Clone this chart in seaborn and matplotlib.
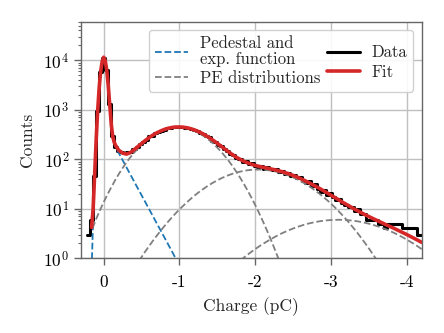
import numpy as np
import pandas as pd
import matplotlib
matplotlib.use('Agg')
import matplotlib.pyplot as plt
from matplotlib.lines import Line2D
import seaborn as sns

# histogram of the measured charge (bin centres in pC, counts per bin)
charge_bins = [0.20, 0.16, 0.12, 0.08, 0.04, 0.00, -0.04, -0.08, -0.12, -0.16,
               -0.20, -0.24, -0.28, -0.32, -0.36, -0.40, -0.44, -0.48, -0.52, -0.56,
               -0.60, -0.64, -0.68, -0.72, -0.76, -0.80, -0.84, -0.88, -0.92, -0.96,
               -1.00, -1.04, -1.08, -1.12, -1.16, -1.20, -1.24, -1.28, -1.32, -1.36,
               -1.40, -1.44, -1.48, -1.52, -1.56, -1.60, -1.64, -1.68, -1.72, -1.76,
               -1.80, -1.84, -1.88, -1.92, -1.96, -2.00, -2.04, -2.08, -2.12, -2.16,
               -2.20, -2.24, -2.28, -2.32, -2.36, -2.40, -2.44, -2.48, -2.52, -2.56,
               -2.60, -2.64, -2.68, -2.72, -2.76, -2.80, -2.84, -2.88, -2.92, -2.96,
               -3.00, -3.04, -3.08, -3.12, -3.16, -3.20, -3.24, -3.28, -3.32, -3.36,
               -3.40, -3.44, -3.48, -3.52, -3.56, -3.60, -3.64, -3.68, -3.72, -3.76,
               -3.80, -3.84, -3.88, -3.92, -3.96, -4.00, -4.04, -4.08, -4.12, -4.16,
               -4.20]
counts = [3, 6, 47, 960, 5800, 11300, 6400, 1280, 290, 180,
          150, 140, 131, 138, 142, 165, 178, 206, 222, 245,
          290, 298, 336, 350, 381, 396, 424, 428, 446, 452,
          441, 450, 436, 431, 405, 396, 372, 341, 326, 290,
          276, 238, 226, 196, 184, 158, 149, 127, 122, 104,
          103, 90, 92, 80, 84, 72, 70, 74, 64, 69,
          63, 60, 64, 55, 58, 51, 54, 45, 48, 41,
          43, 37, 33, 36, 29, 31, 25, 22, 24, 19,
          21, 17, 15, 16, 13, 12, 11, 11, 9, 10,
          8, 8, 6, 6, 6, 6, 5, 5, 4, 5,
          5, 5, 5, 5, 4, 4, 4, 4, 4, 3,
          3]

# total fit
fit_x = [0.16, 0.14, 0.12, 0.10, 0.08, 0.06, 0.04, 0.02, 0.00, -0.02,
         -0.04, -0.06, -0.08, -0.10, -0.12, -0.14, -0.16, -0.18, -0.20, -0.25,
         -0.30, -0.35, -0.40, -0.45, -0.50, -0.55, -0.60, -0.65, -0.70, -0.75,
         -0.80, -0.85, -0.90, -0.95, -1.00, -1.05, -1.10, -1.15, -1.20, -1.25,
         -1.30, -1.35, -1.40, -1.45, -1.50, -1.55, -1.60, -1.65, -1.70, -1.75,
         -1.80, -1.85, -1.90, -1.95, -2.00, -2.05, -2.10, -2.15, -2.20, -2.25,
         -2.30, -2.35, -2.40, -2.45, -2.50, -2.55, -2.60, -2.65, -2.70, -2.75,
         -2.80, -2.85, -2.90, -2.95, -3.00, -3.05, -3.10, -3.15, -3.20, -3.25,
         -3.30, -3.35, -3.40, -3.45, -3.50, -3.55, -3.60, -3.65, -3.70, -3.75,
         -3.80, -3.85, -3.90, -3.95, -4.00, -4.05, -4.10, -4.15, -4.20]
fit_y = [4.2, 9.8, 47, 238, 938, 2751, 5943, 9438, 11502, 9870,
         6326, 3091, 1240, 505, 283, 218, 188, 167, 152, 133,
         127, 136, 155, 180, 208, 240, 274, 308, 341, 372,
         400, 422, 438, 448, 449, 445, 433, 414, 391, 363,
         333, 301, 270, 239, 210, 184, 161, 141, 124, 110,
         100, 91.3, 84.7, 79.4, 75.3, 72.1, 69.2, 66.7, 64.2, 61.8,
         59.2, 56.4, 53.5, 50.5, 47.2, 44.0, 40.7, 37.5, 34.3, 31.3,
         28.5, 25.8, 23.3, 21.0, 18.9, 17.0, 15.3, 13.7, 12.4, 11.2,
         10.1, 9.18, 8.36, 7.63, 6.99, 6.42, 5.9, 5.44, 5.0, 4.61,
         4.26, 3.92, 3.6, 3.3, 3.03, 2.77, 2.53, 2.31, 2.1]

# pedestal + exponential component
ped_x = [0.16, 0.14, 0.12, 0.10, 0.08, 0.06, 0.04, 0.02, 0.00, -0.02,
         -0.04, -0.06, -0.08, -0.10, -0.12, -0.14, -0.16, -0.18, -0.20, -0.25,
         -0.30, -0.35, -0.40, -0.45, -0.50, -0.55, -0.60, -0.65, -0.70, -0.75,
         -0.80, -0.85, -0.90, -0.95, -1.00]
ped_y = [0.56, 5.7, 42.5, 232, 932, 2744, 5934, 9427, 11490, 9857,
         6311, 3075, 1223, 487, 267, 203, 174, 152, 133, 96,
         69, 50, 36, 26, 18.8, 13.6, 9.8, 7.1, 5.1, 3.7,
         2.67, 1.93, 1.39, 1.0, 0.72]

# photo-electron distributions (1, 2 and 3 PE)
pe1_x = [0.16, 0.10, 0.05, 0.00, -0.05, -0.10, -0.15, -0.20, -0.25, -0.30,
         -0.35, -0.40, -0.45, -0.50, -0.55, -0.60, -0.65, -0.70, -0.75, -0.80,
         -0.85, -0.90, -0.95, -1.00, -1.05, -1.10, -1.15, -1.20, -1.25, -1.30,
         -1.35, -1.40, -1.45, -1.50, -1.55, -1.60, -1.65, -1.70, -1.75, -1.80,
         -1.85, -1.90, -1.95, -2.00, -2.05, -2.10, -2.15, -2.20, -2.25, -2.30,
         -2.35, -2.40]
pe1_y = [3.6, 6.2, 9.3, 13.6, 19.5, 27.2, 37.5, 50.5, 66.5, 86,
         109, 135, 164, 197, 231, 266, 301, 334, 366, 393,
         415, 430, 439, 439, 433, 419, 398, 372, 342, 309,
         274, 239, 205, 172, 143, 116, 93.2, 73.2, 56.5, 42.9,
         32.0, 23.5, 16.9, 12.0, 8.35, 5.7, 3.84, 2.54, 1.65, 1.05,
         0.66, 0.41]
pe2_x = [-0.45, -0.50, -0.55, -0.60, -0.65, -0.70, -0.75, -0.80, -0.85, -0.90,
         -0.95, -1.00, -1.05, -1.10, -1.15, -1.20, -1.25, -1.30, -1.35, -1.40,
         -1.45, -1.50, -1.55, -1.60, -1.65, -1.70, -1.75, -1.80, -1.85, -1.90,
         -1.95, -2.00, -2.05, -2.10, -2.15, -2.20, -2.25, -2.30, -2.35, -2.40,
         -2.45, -2.50, -2.55, -2.60, -2.65, -2.70, -2.75, -2.80, -2.85, -2.90,
         -2.95, -3.00, -3.05, -3.10, -3.15, -3.20, -3.25, -3.30, -3.35, -3.40,
         -3.45, -3.50, -3.55, -3.60, -3.65, -3.70, -3.75]
pe2_y = [0.81, 1.06, 1.38, 1.77, 2.26, 2.85, 3.57, 4.44, 5.47, 6.68,
         8.08, 9.70, 11.5, 13.6, 15.9, 18.5, 21.3, 24.2, 27.4, 30.7,
         34.1, 37.6, 41.1, 44.5, 47.8, 50.9, 53.7, 56.2, 58.3, 60.0,
         61.1, 61.8, 62.0, 61.6, 60.7, 59.3, 57.5, 55.2, 52.6, 49.6,
         46.5, 43.1, 39.7, 36.2, 32.7, 29.3, 26.1, 23.0, 20.1, 17.4,
         15.0, 12.8, 10.8, 9.03, 7.50, 6.17, 5.04, 4.07, 3.27, 2.60,
         2.05, 1.60, 1.24, 0.955, 0.727, 0.55, 0.41]
pe3_x = [-1.80, -1.85, -1.90, -1.95, -2.00, -2.05, -2.10, -2.15, -2.20, -2.25,
         -2.30, -2.35, -2.40, -2.45, -2.50, -2.55, -2.60, -2.65, -2.70, -2.75,
         -2.80, -2.85, -2.90, -2.95, -3.00, -3.05, -3.10, -3.15, -3.20, -3.25,
         -3.30, -3.35, -3.40, -3.45, -3.50, -3.55, -3.60, -3.65, -3.70, -3.75,
         -3.80, -3.85, -3.90, -3.95, -4.00, -4.05, -4.10, -4.15, -4.20]
pe3_y = [0.89, 1.03, 1.18, 1.35, 1.53, 1.73, 1.94, 2.16, 2.40, 2.65,
         2.91, 3.18, 3.45, 3.72, 3.99, 4.26, 4.52, 4.77, 5.01, 5.22,
         5.42, 5.59, 5.73, 5.85, 5.93, 5.98, 6.0, 5.98, 5.93, 5.85,
         5.73, 5.59, 5.42, 5.22, 5.01, 4.77, 4.52, 4.26, 3.99, 3.72,
         3.45, 3.18, 2.91, 2.65, 2.40, 2.16, 1.94, 1.73, 1.53]

x_ticks = [0, -1, -2, -3, -4]
x_ticklabels = ['0', '-1', '-2', '-3', '-4']

sns.set_style('ticks', {'axes.grid': True, 'grid.color': '.75',
                        'axes.edgecolor': '.4', 'xtick.color': '.4',
                        'ytick.color': '.4'})
plt.rcParams['font.family'] = 'serif'
plt.rcParams['font.serif'] = ['cmr10']
plt.rcParams['mathtext.fontset'] = 'cm'
plt.rcParams['axes.formatter.use_mathtext'] = True
plt.rcParams['axes.unicode_minus'] = False
plt.rcParams['font.size'] = 12

hist_df = pd.DataFrame({'charge': charge_bins, 'counts': counts})

fig = plt.figure(figsize=(4.44, 3.33), dpi=100)
ax = fig.add_axes([0.1824, 0.2243, 0.7674, 0.7105])
ax.set_yscale('log')

sns.histplot(data=hist_df, x='charge', weights='counts', binwidth=0.04,
             binrange=(-4.22, 0.22), element='step', fill=False,
             color='black', lw=2.2, ax=ax)
sns.lineplot(x=ped_x, y=ped_y, ax=ax, color='#1f77b4', lw=1.3, ls='--')
for px, py in [(pe1_x, pe1_y), (pe2_x, pe2_y), (pe3_x, pe3_y)]:
    sns.lineplot(x=px, y=py, ax=ax, color='gray', lw=1.3, ls='--')
sns.lineplot(x=fit_x, y=fit_y, ax=ax, color='#d62728', lw=2.6)

ax.set_xlim(0.3, -4.2)
ax.set_ylim(1, 6e4)
ax.set_xticks(x_ticks, x_ticklabels)
ax.tick_params(which='both', labelcolor='black', direction='out', labelsize=12.5)
ax.tick_params(which='major', length=5, width=1)
ax.tick_params(which='minor', length=2.5, width=0.8)
ax.tick_params(axis='x', pad=7)
ax.grid(True, which='major', color='.75', lw=1)
ax.grid(False, which='minor')
ax.set_xlabel('Charge (pC)', fontsize=12.5, labelpad=5)
ax.set_ylabel('Counts', fontsize=12.5, labelpad=6)
for s in ax.spines.values():
    s.set_linewidth(1)

handles = [Line2D([], [], color='#1f77b4', lw=1.3, ls='--'),
           Line2D([], [], color='gray', lw=1.3, ls='--'),
           Line2D([], [], color='black', lw=2.2),
           Line2D([], [], color='#d62728', lw=2.6)]
labels = ['Pedestal and\nexp. function', 'PE distributions', 'Data', 'Fit']
leg = ax.legend(handles, labels, ncol=2, loc='upper right', fontsize=12,
                frameon=True, edgecolor='.8', framealpha=0.9, fancybox=True,
                handlelength=2, columnspacing=0.4, labelspacing=0.25,
                borderpad=0.35, handletextpad=0.7)
for t in leg.get_texts():
    t.set_linespacing(1.0)

fig.savefig('out.png', dpi=100)
